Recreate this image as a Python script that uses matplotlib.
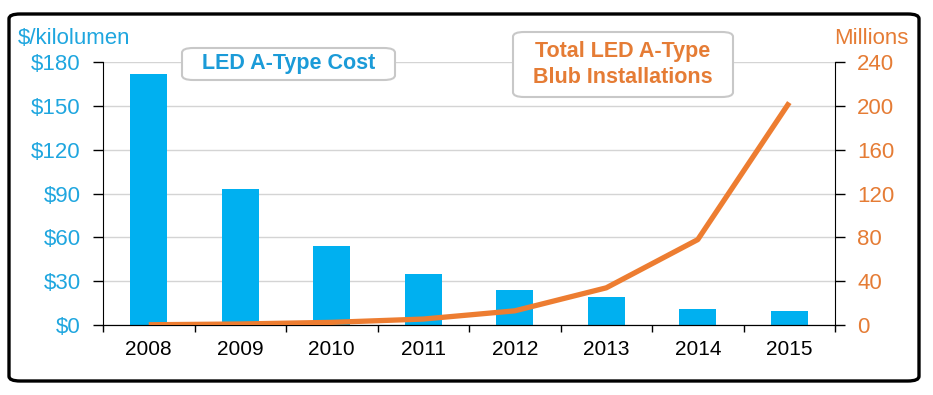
import matplotlib
matplotlib.use("Agg")
import matplotlib.pyplot as plt
from matplotlib.patches import FancyBboxPatch
import numpy as np

years = ["2008", "2009", "2010", "2011", "2012", "2013", "2014", "2015"]
cost = [172, 93, 54, 35, 24, 19.5, 11, 9.5]          # $/kilolumen
installs = [0.3, 1, 2.5, 5.5, 13, 34, 78, 203]       # millions

left_ticks = [0, 30, 60, 90, 120, 150, 180]
right_ticks = [0, 40, 80, 120, 160, 200, 240]

BLUE_BAR = "#00B0F0"
BLUE_TXT = "#1FA6DF"
ORANGE = "#ED7D31"
ORANGE_TXT = "#E57C35"

plt.rcParams["font.family"] = ["Liberation Sans", "DejaVu Sans"]

W, H = 933, 395
fig = plt.figure(figsize=(W / 100, H / 100), dpi=100)
ax = fig.add_axes([0.1104, 0.177, 0.7846, 0.666])
ax2 = ax.twinx()

x = np.arange(len(years))
ax.bar(x, cost, width=0.4, color=BLUE_BAR, zorder=2)
ax.set_xlim(-0.5, len(years) - 0.5)
ax.set_ylim(0, 180)
ax.set_yticks(left_ticks)
ax.set_yticklabels(["$%d" % v for v in left_ticks])
ax.set_xticks(x)
ax.set_xticklabels(years)
ax.set_xticks(np.arange(-0.5, len(years)), minor=True)
ax.tick_params(axis="x", which="major", length=0, pad=11, labelsize=15, labelcolor="black")
ax.tick_params(axis="x", which="minor", length=5, width=1, direction="out")
ax.tick_params(axis="y", length=7, width=1, pad=9, labelsize=16, labelcolor=BLUE_TXT)
ax.yaxis.grid(True, color="#D4D4D4", linewidth=1, zorder=0)
ax.set_axisbelow(True)
for s in ["top", "right"]:
    ax.spines[s].set_visible(False)

ax2.plot(x, installs, color=ORANGE, linewidth=3.8, solid_capstyle="butt", zorder=3)
ax2.set_ylim(0, 240)
ax2.set_yticks(right_ticks)
ax2.tick_params(axis="y", length=7, width=1, pad=9, labelsize=16, labelcolor=ORANGE_TXT)
ax2.spines["top"].set_visible(False)
ax2.spines["left"].set_visible(False)

# axis titles
fig.text(18 / W, 1 - 38 / H, "$/kilolumen", color=BLUE_TXT, fontsize=16,
         ha="left", va="center")
fig.text(909 / W, 1 - 38 / H, "Millions", color=ORANGE_TXT, fontsize=16,
         ha="right", va="center")


def label_box(x0, y0, x1, y1, text, color):
    box = FancyBboxPatch((x0 / W, 1 - y1 / H), (x1 - x0) / W, (y1 - y0) / H,
                         boxstyle="round,pad=0,rounding_size=0.012",
                         transform=fig.transFigure, fc="white", ec="#C8C8C8", lw=1.5,
                         zorder=5)
    fig.patches.append(box)
    fig.text((x0 + x1) / 2 / W, 1 - (y0 + y1) / 2 / H, text, color=color, fontsize=15.5,
             fontweight="bold", ha="center", va="center", linespacing=1.3, zorder=6)


label_box(182, 48, 395, 80, "LED A-Type Cost", "#1B9BD8")
label_box(513, 32, 733, 97, "Total LED A-Type\nBlub Installations", ORANGE_TXT)

# rounded outer frame
frame = FancyBboxPatch((9 / W, 14 / H), 910 / W, 367 / H,
                       boxstyle="round,pad=0,rounding_size=0.012",
                       transform=fig.transFigure, fill=False, ec="black", lw=2.4)
fig.patches.append(frame)

fig.savefig("out.png", dpi=100)
